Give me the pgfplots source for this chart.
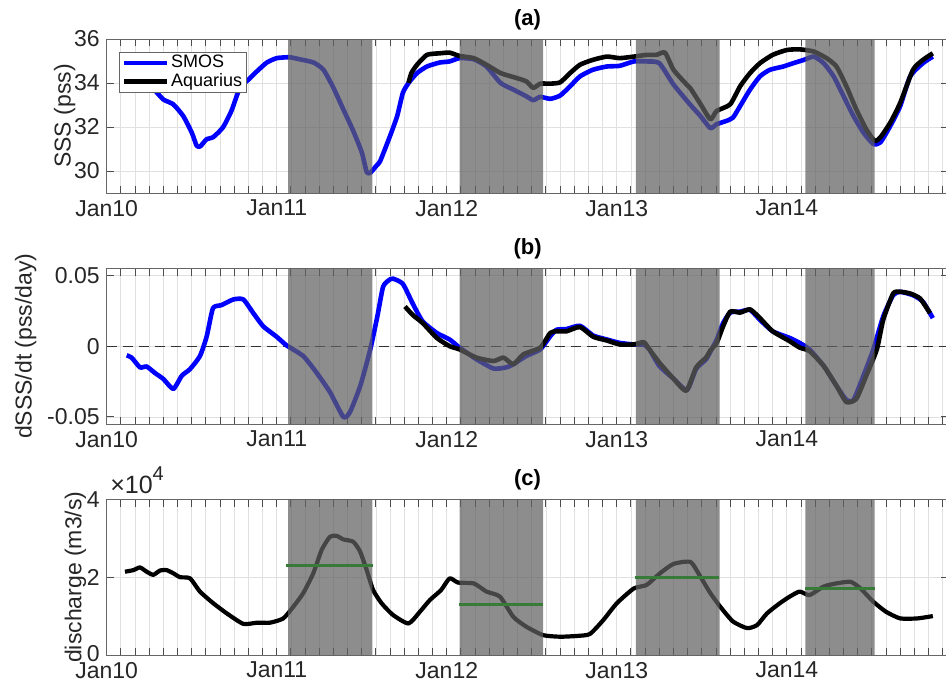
\documentclass[border=0pt]{standalone}
\usepackage{fontspec}
\setmainfont{Liberation Sans}
\usepackage{pgfplots}
\pgfplotsset{compat=1.18}
\definecolor{shadecol}{gray}{0.38}
\definecolor{meangreen}{rgb}{0.22,0.48,0.22}
\definecolor{smosblue}{rgb}{0,0,1}
\definecolor{gridgray}{gray}{0.88}
\definecolor{axgray}{gray}{0.15}
\pgfplotsset{
 panel/.style={
  scale only axis, width=420.85pt, xmin=0, xmax=59.4,
  xtick={0,12,24,36,48}, xticklabels={Jan10,Jan11,Jan12,Jan13,Jan14},
  minor xtick={0,1,...,59},
  grid=both,
  major grid style={gridgray, line width=0.4pt},
  minor grid style={gridgray, line width=0.4pt},
  tick align=inside, major tick length=3.6pt, minor tick length=3.6pt,
  tick style={black!70, line width=0.5pt},
  axis line style={black!60, line width=0.5pt},
  ticklabel style={font=\fontsize{11.5}{12}\selectfont, text=axgray},
  label style={font=\fontsize{11.5}{12}\selectfont, text=axgray},
  title style={font=\bfseries\fontsize{11}{12}\selectfont, yshift=-5pt},
  scaled y ticks=false,
  anchor=south west,
 },
 shade/.style={draw=none, fill=shadecol, fill opacity=0.72, forget plot},
 curve/.style={line width=2.3pt, line join=round, smooth, tension=0.35},
}
\begin{document}
\begin{tikzpicture}
\path[use as bounding box] (0,0) rectangle (473pt,-342.5pt);
% ---------------- (a)
\begin{axis}[panel, at={(53.35pt,-96.5pt)}, height=77pt,
  ymin=29, ymax=36, ytick={30,32,34,36}, yticklabels={30,32,34,36},
  ylabel={SSS (pss)}, ylabel style={yshift=-7.5pt}, title={(a)},
  legend style={at={(rel axis cs:0.0147,0.916)}, anchor=north west,
    draw=black!60, line width=0.5pt, fill=white,
    font=\fontsize{9}{9}\selectfont, inner xsep=1pt, inner ysep=1pt,
    row sep=0.6pt, cells={anchor=west},
    nodes={inner xsep=1pt, inner ysep=0pt, text height=6.6pt, text depth=2pt}},
  legend image code/.code={\draw[#1, sharp plot] (0pt,0pt) -- (21.5pt,0pt);},
]
\addplot[smosblue, curve] coordinates {
(1.4,34.55) (2.0,34.4) (2.7,34.05) (3.4,33.66) (4.0,33.25) (4.7,33.03) (5.4,32.5) (6.0,31.75) (6.35,31.15) (6.6,31.12) (7.06,31.45) (7.5,31.53) (8.2,31.98) (8.8,32.73) (9.4,33.78) (10.0,34.15) (10.6,34.53) (11.3,34.93) (12.0,35.13) (12.9,35.17) (13.6,35.08) (14.6,34.93) (15.3,34.6) (16.0,33.78) (16.7,32.8) (17.4,31.82) (18.0,30.85) (18.35,29.95) (18.6,29.92) (19.05,30.25) (19.3,30.45) (20.0,31.6) (20.5,32.5) (20.9,33.55) (21.3,34.0) (21.9,34.45) (22.6,34.75) (23.5,34.93) (24.2,34.98) (24.9,35.13) (25.9,35.08) (26.8,34.75) (27.8,34.0) (28.7,33.7) (29.6,33.4) (30.1,33.22) (30.6,33.37) (31.3,33.28) (32.0,33.43) (32.7,33.85) (33.4,34.3) (34.3,34.6) (35.3,34.75) (36.2,34.78) (37.2,34.98) (38.1,34.98) (39.0,34.9) (40.0,33.93) (41.2,33.0) (41.9,32.5) (42.6,31.95) (43.05,32.13) (43.75,32.28) (44.2,32.43) (44.7,32.95) (45.4,33.7) (46.1,34.3) (46.8,34.6) (47.75,34.75) (48.45,34.9) (49.2,35.05) (49.9,35.2) (50.6,34.9) (51.3,34.3) (52.0,33.4) (52.7,32.5) (53.4,31.75) (54.1,31.23) (54.6,31.3) (55.3,32.05) (56.0,32.95) (56.7,34.3) (57.6,34.9) (58.3,35.2)
};
\addlegendentry{SMOS}
\addplot[black, curve] coordinates {
(21.3,34.0) (21.5,34.45) (21.9,34.83) (22.6,35.28) (23.5,35.35) (24.2,35.38) (24.9,35.23) (25.9,35.13) (26.8,34.83) (27.8,34.45) (28.7,34.27) (29.6,34.08) (30.1,33.78) (30.6,33.97) (31.3,33.97) (32.0,34.03) (32.7,34.45) (33.4,34.83) (34.3,35.05) (35.3,35.2) (36.2,35.13) (37.2,35.2) (38.1,35.28) (38.8,35.28) (39.4,35.38) (40.0,34.6) (40.9,33.95) (41.2,33.75) (41.9,33.05) (42.6,32.35) (43.05,32.73) (44.0,33.03) (44.7,33.85) (45.4,34.45) (46.1,34.9) (47.0,35.28) (48.0,35.5) (48.9,35.53) (49.9,35.43) (50.8,35.13) (51.5,34.75) (52.2,33.85) (52.9,32.8) (53.6,31.9) (54.2,31.37) (54.6,31.53) (55.3,32.2) (56.0,33.1) (56.9,34.6) (57.6,35.05) (58.3,35.35)
};
\addlegendentry{Aquarius}
\addplot[shade] coordinates {(12.8,29) (18.75,29) (18.75,36) (12.8,36) (12.8,29)};
\addplot[shade] coordinates {(24.9,29) (30.8,29) (30.8,36) (24.9,36) (24.9,29)};
\addplot[shade] coordinates {(37.35,29) (43.25,29) (43.25,36) (37.35,36) (37.35,29)};
\addplot[shade] coordinates {(49.3,29) (54.2,29) (54.2,36) (49.3,36) (49.3,29)};
\end{axis}
% ---------------- (b)
\begin{axis}[panel, at={(53.35pt,-212pt)}, height=77.85pt,
  ymin=-0.055, ymax=0.055, ytick={-0.05,0,0.05}, yticklabels={-0.05,0,0.05},
  ylabel={dSSS/dt (pss/day)}, ylabel style={yshift=-1.5pt}, title={(b)}]
\addplot[black!80, line width=0.6pt, dash pattern=on 5pt off 3pt] coordinates {(0,0) (59.4,0)};
\addplot[smosblue, curve] coordinates {
(1.41,-0.0065) (1.76,-0.0081) (2.35,-0.015) (2.82,-0.0144) (3.41,-0.019) (4.0,-0.0232) (4.7,-0.0302) (5.3,-0.0209) (5.88,-0.0162) (6.58,-0.007) (7.06,0.007) (7.5,0.0268) (8.1,0.029) (8.94,0.033) (9.64,0.033) (10.35,0.0233) (11.05,0.014) (12.0,0.0066) (12.7,0.0005) (13.87,-0.007) (14.8,-0.0186) (15.76,-0.0325) (16.7,-0.050) (17.17,-0.0465) (17.9,-0.0279) (18.6,-0.0023) (19.1,0.021) (19.5,0.0418) (19.9,0.0465) (20.2,0.0477) (20.9,0.044) (21.6,0.030) (22.3,0.0175) (23.3,0.0093) (24.2,0.0047) (24.9,-0.001) (26.1,-0.0093) (27.3,-0.0158) (28.2,-0.015) (28.7,-0.0128) (29.6,-0.007) (30.6,-0.0023) (31.3,0.007) (31.75,0.0116) (32.45,0.0121) (33.4,0.0144) (34.34,0.0075) (35.3,0.0047) (36.2,0.0023) (37.2,0.0012) (37.9,0.0012) (38.3,-0.0023) (39.0,-0.014) (40.0,-0.023) (40.95,-0.031) (41.6,-0.016) (42.3,-0.0093) (42.7,-0.002) (43.05,0.0047) (43.5,0.0163) (44.0,0.0237) (44.7,0.0244) (45.4,0.0256) (46.1,0.0186) (47.0,0.0105) (48.2,0.0058) (48.9,0.0023) (49.6,-0.0023) (50.6,-0.014) (51.5,-0.028) (52.2,-0.038) (52.7,-0.038) (53.4,-0.021) (54.1,-0.0023) (54.8,0.021) (55.5,0.036) (56.0,0.0384) (56.9,0.036) (57.6,0.0314) (58.3,0.0198)
};
\addplot[black, curve] coordinates {
(21.05,0.028) (21.6,0.022) (22.3,0.0163) (23.3,0.0058) (24.2,0.0) (24.9,-0.0023) (26.1,-0.0081) (27.3,-0.0105) (28.0,-0.0081) (28.7,-0.0128) (29.4,-0.0058) (30.6,-0.001) (31.3,0.0093) (31.75,0.0105) (32.45,0.0105) (33.4,0.0135) (34.34,0.0066) (35.3,0.004) (36.2,0.0012) (37.2,0.0012) (37.9,0.0028) (38.3,-0.0023) (39.0,-0.0116) (40.0,-0.023) (40.9,-0.0314) (41.6,-0.015) (42.3,-0.008) (42.6,-0.003) (43.05,0.0023) (43.5,0.014) (44.0,0.0244) (44.7,0.0237) (45.4,0.026) (46.1,0.0198) (47.0,0.0105) (48.2,0.0035) (48.9,-0.001) (49.6,-0.0035) (50.6,-0.014) (51.5,-0.028) (52.2,-0.0395) (52.9,-0.0372) (53.6,-0.021) (54.35,-0.0023) (54.8,0.0186) (55.5,0.0372) (56.0,0.0384) (56.7,0.0372) (57.4,0.0337) (58.1,0.0233)
};
\addplot[shade] coordinates {(12.8,-0.055) (18.75,-0.055) (18.75,0.055) (12.8,0.055) (12.8,-0.055)};
\addplot[shade] coordinates {(24.9,-0.055) (30.8,-0.055) (30.8,0.055) (24.9,0.055) (24.9,-0.055)};
\addplot[shade] coordinates {(37.35,-0.055) (43.25,-0.055) (43.25,0.055) (37.35,0.055) (37.35,-0.055)};
\addplot[shade] coordinates {(49.3,-0.055) (54.2,-0.055) (54.2,0.055) (49.3,0.055) (49.3,-0.055)};
\end{axis}
% ---------------- (c)
\begin{axis}[panel, name=axc, at={(53.35pt,-327.5pt)}, height=77.85pt,
  ymin=0, ymax=40000, ytick={0,20000,40000}, yticklabels={\raisebox{2pt}{0},2,4},
  ylabel={discharge (m3/s)}, ylabel style={yshift=-6.5pt}, title={(c)}]
\addplot[black, curve, line width=2.1pt] coordinates {
(1.29,21400) (1.88,21800) (2.35,22500) (2.82,21400) (3.29,20600) (3.76,21700) (4.23,21800) (4.7,21000) (5.17,20000) (5.88,19700) (6.58,16300) (7.52,13300) (8.47,10700) (9.64,8000) (10.6,8300) (11.52,8300) (12.46,9400) (13.17,12400) (13.87,15900) (14.58,21000) (15.17,27000) (15.76,30400) (16.23,30600) (16.7,29700) (17.4,29100) (17.88,26600) (18.35,21800) (18.8,16700) (19.4,13300) (20.2,10300) (21.3,8100) (22.1,11100) (22.8,14100) (23.6,16700) (24.2,19700) (24.8,18600) (25.9,18400) (26.8,16300) (27.75,15000) (28.7,9800) (29.6,7300) (30.8,5100) (32.0,4700) (33.2,4900) (34.1,5400) (35.05,9000) (36.0,13300) (37.2,17100) (38.1,18000) (39.05,21000) (40.0,23400) (41.2,23900) (41.9,20100) (42.6,15900) (43.3,12400) (44.2,8600) (45.2,6900) (45.9,7700) (46.6,10700) (47.5,13300) (48.2,15000) (48.9,16300) (49.6,15400) (50.6,17600) (51.5,18400) (52.5,18800) (53.2,17100) (54.1,13700) (55.0,11100) (56.0,9400) (57.2,9400) (58.3,10000)
};
\addplot[shade] coordinates {(12.8,0) (18.75,0) (18.75,40000) (12.8,40000) (12.8,0)};
\addplot[shade] coordinates {(24.9,0) (30.8,0) (30.8,40000) (24.9,40000) (24.9,0)};
\addplot[shade] coordinates {(37.35,0) (43.25,0) (43.25,40000) (37.35,40000) (37.35,0)};
\addplot[shade] coordinates {(49.3,0) (54.2,0) (54.2,40000) (49.3,40000) (49.3,0)};
\addplot[meangreen, line width=1.5pt] coordinates {(12.65,22900) (18.77,22900)};
\addplot[meangreen, line width=1.5pt] coordinates {(24.86,13100) (30.8,13100)};
\addplot[meangreen, line width=1.5pt] coordinates {(37.3,20000) (43.2,20000)};
\addplot[meangreen, line width=1.5pt] coordinates {(49.3,17200) (54.2,17200)};
\end{axis}
\node[anchor=base west, inner sep=0pt, font=\fontsize{12.5}{13}\selectfont, text=axgray]
  at ([xshift=1.6pt, yshift=3pt]axc.north west) {×10\raisebox{0.5em}{\fontsize{10}{10}\selectfont 4}};
\end{tikzpicture}
\end{document}
